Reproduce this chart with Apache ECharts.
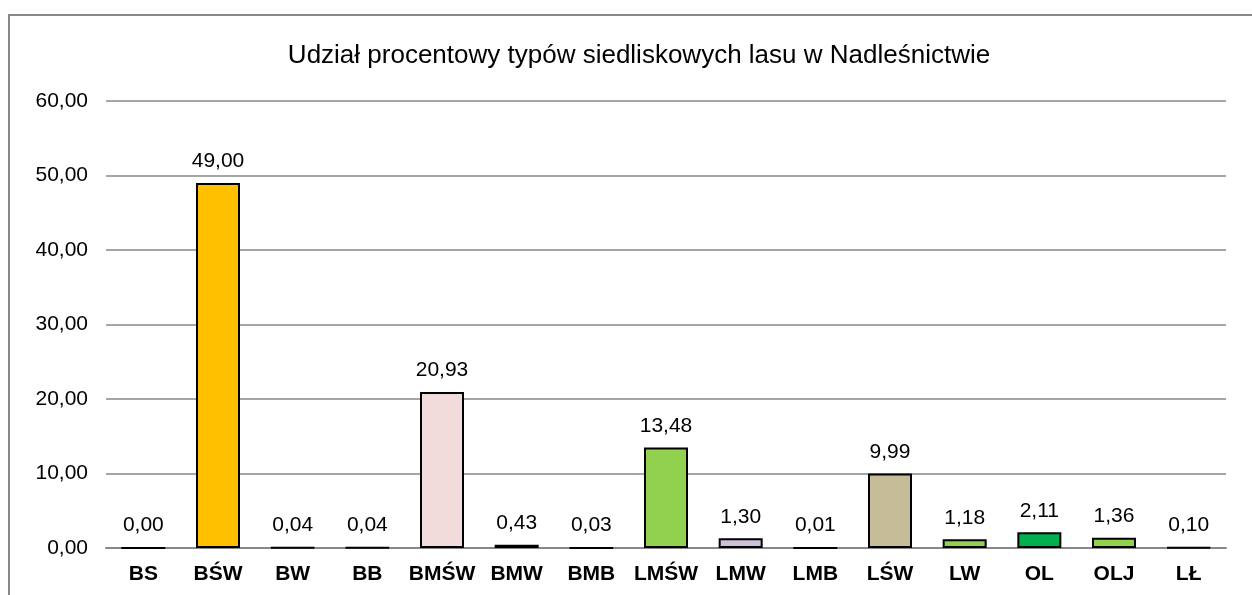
<!DOCTYPE html>
<html>
<head>
<meta charset="utf-8">
<script src="https://cdn.jsdelivr.net/npm/echarts@6/dist/echarts.min.js"></script>
<style>
  html, body { margin: 0; padding: 0; background: #fff; }
  #frame { position: absolute; left: 8px; top: 14px; width: 1300px; height: 700px; border: 2px solid #888; box-sizing: border-box; }
  #main { position: absolute; left: 0; top: 0; width: 1252px; height: 595px; }
</style>
</head>
<body>
<div id="frame"></div>
<div id="main"></div>
<script>
// dane
var categories = ['BS', 'BŚW', 'BW', 'BB', 'BMŚW', 'BMW', 'BMB', 'LMŚW', 'LMW', 'LMB', 'LŚW', 'LW', 'OL', 'OLJ', 'LŁ']
var values = [0.00, 49.00, 0.04, 0.04, 20.93, 0.43, 0.03, 13.48, 1.30, 0.01, 9.99, 1.18, 2.11, 1.36, 0.10]
var barColors = ['#ffffff', '#FFC000', '#ffffff', '#ffffff', '#F2DCDB', '#7f7f7f', '#ffffff', '#92D050', '#CCC0DA', '#ffffff', '#C4BD97', '#92D050', '#00B050', '#92D050', '#ffffff']

var mychart = echarts.init(document.getElementById('main'))

var fmt = function (v) { return v.toFixed(2).replace('.', ',') }

var option = {
  animation: false,
  title: {
    text: 'Udział procentowy typów siedliskowych lasu w Nadleśnictwie',
    left: 634,
    top: 38,
    textAlign: 'center',
    textStyle: { fontFamily: 'Liberation Sans', fontSize: 26, fontWeight: 'normal', color: '#000' },
  },
  grid: { left: 106, right: 26, top: 101, bottom: 47 },
  xAxis: {
    type: 'category',
    data: categories,
    axisLine: { lineStyle: { color: '#888', width: 2 } },
    axisTick: { show: false },
    axisLabel: { fontFamily: 'Liberation Sans', fontSize: 21, fontWeight: 'bold', color: '#000', margin: 16, interval: 0 },
  },
  yAxis: {
    type: 'value',
    min: 0,
    max: 60,
    interval: 10,
    axisLine: { show: false },
    axisTick: { show: false },
    splitLine: { lineStyle: { color: '#888', width: 1.5 } },
    axisLabel: { fontFamily: 'Liberation Sans', fontSize: 21, color: '#000', margin: 18, formatter: fmt },
  },
  series: [
    {
      type: 'bar',
      barWidth: 44,
      data: values.map(function (v, i) {
        return { value: v, itemStyle: { color: barColors[i] } }
      }),
      itemStyle: { borderColor: '#000', borderWidth: 2 },
      label: {
        show: true,
        position: 'top',
        distance: 11,
        fontFamily: 'Liberation Sans',
        fontSize: 21,
        color: '#000',
        formatter: function (p) { return fmt(p.value) },
      },
    },
  ],
}
mychart.setOption(option)
</script>
</body>
</html>
